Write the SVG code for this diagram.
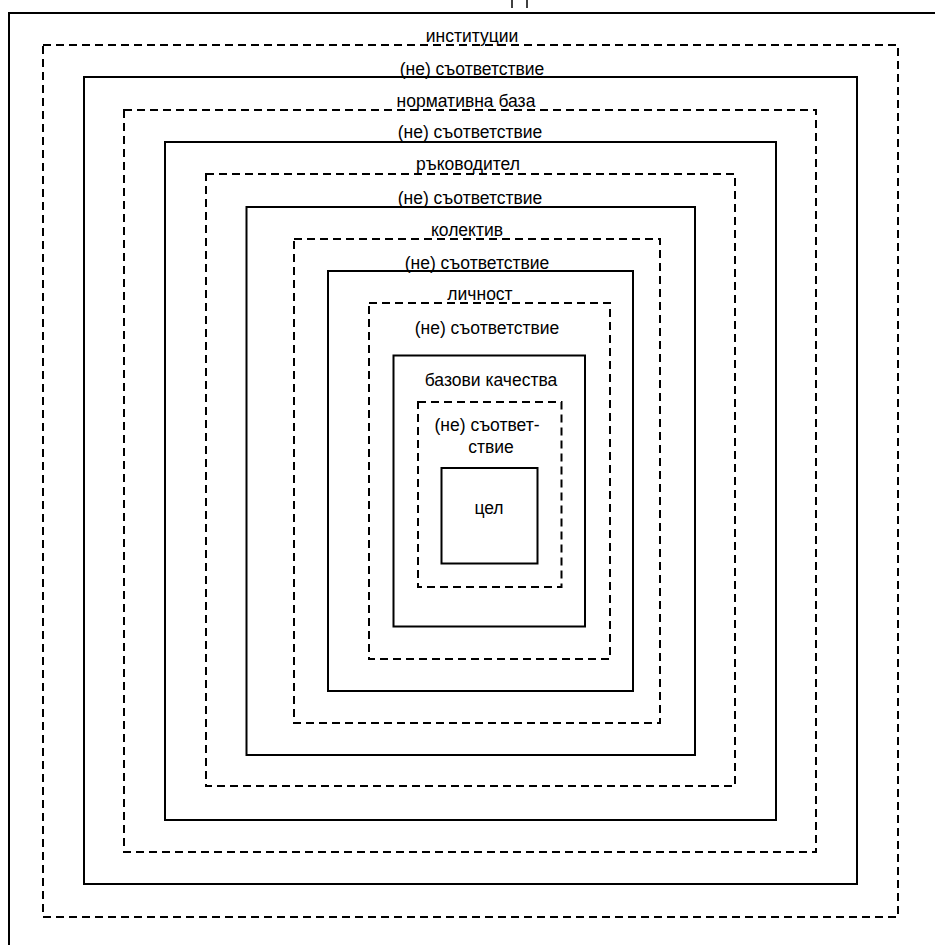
<svg xmlns="http://www.w3.org/2000/svg" width="935" height="945" viewBox="0 0 935 945">
<style>
.solid{fill:none;stroke:#000;stroke-width:2}
.dash{fill:none;stroke:#000;stroke-width:2;stroke-dasharray:8 5}
text{font-family:"Liberation Sans",Arial,sans-serif;font-size:17.5px;fill:#000;text-anchor:middle}
</style>
<rect width="935" height="945" fill="#fff"/>
<g id="top-marks">
<line x1="512" y1="0" x2="512" y2="8" stroke="#000" stroke-width="1.5"/>
<line x1="527" y1="0" x2="527" y2="8" stroke="#000" stroke-width="1.5"/>
</g>
<g id="outer"><rect class="solid" x="9" y="13" width="960" height="960"/></g>
<g id="institutions"><rect class="dash" x="43" y="45" width="855" height="872"/><text x="472" y="42">институции</text></g>
<g id="match1"><rect class="solid" x="84" y="77" width="773" height="807"/><text x="472" y="75">(не) съответствие</text></g>
<g id="norms"><rect class="dash" x="124" y="110" width="692" height="742"/><text x="466" y="107">нормативна база</text></g>
<g id="match2"><rect class="solid" x="165" y="142" width="611" height="678"/><text x="470" y="138">(не) съответствие</text></g>
<g id="leader"><rect class="dash" x="206" y="174" width="529" height="612"/><text x="468" y="170">ръководител</text></g>
<g id="match3"><rect class="solid" x="246.5" y="207" width="448.5" height="548"/><text x="470" y="204">(не) съответствие</text></g>
<g id="collective"><rect class="dash" x="294" y="239" width="366" height="484"/><text x="467" y="236">колектив</text></g>
<g id="match4"><rect class="solid" x="328" y="271" width="305" height="420"/><text x="477" y="269">(не) съответствие</text></g>
<g id="personality"><rect class="dash" x="369" y="303" width="241" height="356"/><text x="480" y="300">личност</text><text x="487" y="334">(не) съответствие</text></g>
<g id="basic"><rect class="solid" x="393.5" y="355.5" width="191.5" height="271"/><text x="491" y="386">базови качества</text></g>
<g id="match5"><rect class="dash" x="418" y="402" width="143.5" height="185"/><text x="487" y="431">(не) съответ-</text><text x="491" y="453">ствие</text></g>
<g id="goal"><rect class="solid" x="441.5" y="468" width="96" height="95.5"/><text x="489" y="514">цел</text></g>
<g id="connectors"></g>
</svg>
